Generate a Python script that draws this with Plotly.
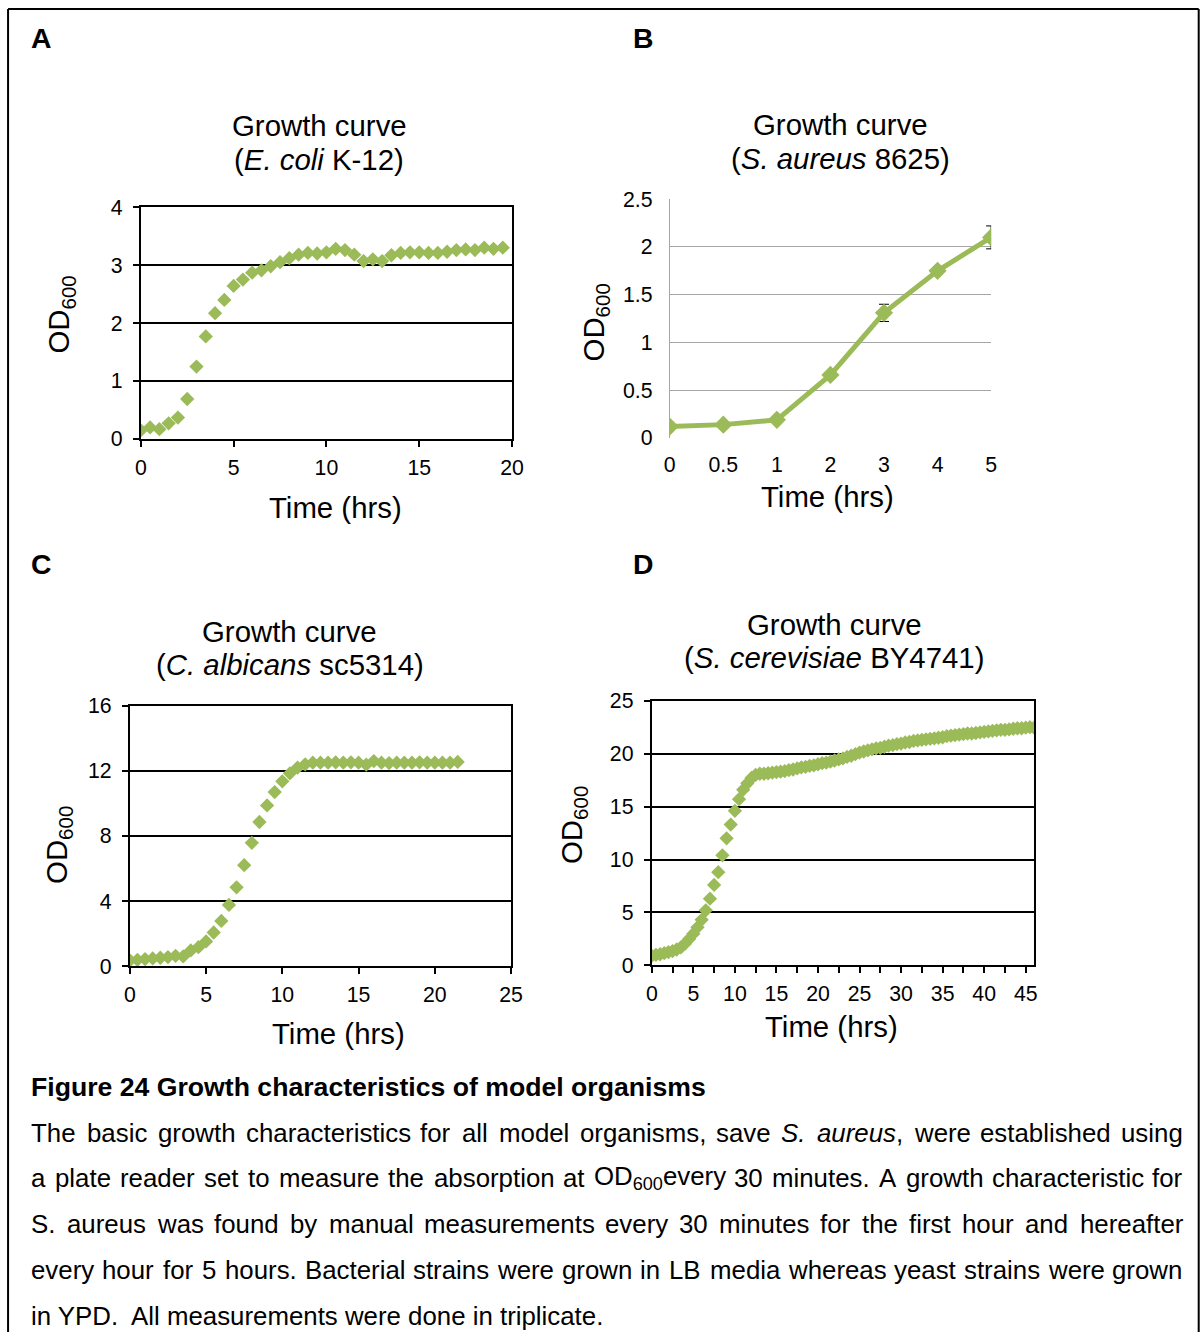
import re
import plotly.graph_objects as go

W, H = 1204, 1344
# the page is photographed with a small offset and scale; place items so they land where the reference has them
S, OFFX, OFFY = 0.987, 5, 8
GREEN = "#9BBB59"
FONT = "Arial, Liberation Sans, sans-serif"

# ---------------- data ----------------
# A: E. coli K-12
a_time = [0, 0.5, 1, 1.5, 2, 2.5, 3, 3.5, 4, 4.5, 5, 5.5, 6, 6.5, 7, 7.5, 8, 8.5, 9, 9.5,
          10, 10.5, 11, 11.5, 12, 12.5, 13, 13.5, 14, 14.5, 15, 15.5, 16, 16.5, 17, 17.5, 18, 18.5, 19, 19.5]
a_od = [0.15, 0.2, 0.17, 0.27, 0.37, 0.69, 1.25, 1.77, 2.17, 2.4, 2.64, 2.75, 2.87, 2.91, 2.98, 3.05, 3.12, 3.18, 3.21, 3.2,
        3.22, 3.28, 3.26, 3.18, 3.07, 3.1, 3.07, 3.17, 3.21, 3.22, 3.22, 3.21, 3.21, 3.23, 3.26, 3.27, 3.26, 3.3, 3.28, 3.3]

# B: S. aureus 8625
b_time = ["0", "0.5", "1", "2", "3", "4", "5"]
b_od = [0.12, 0.14, 0.19, 0.66, 1.31, 1.75, 2.1]
b_err = [0.01, 0.01, 0.01, 0.02, 0.09, 0.03, 0.12]

# C: C. albicans sc5314
c_time = [0, 0.5, 1, 1.5, 2, 2.5, 3, 3.5, 4, 4.5, 5, 5.5, 6, 6.5, 7, 7.5, 8, 8.5, 9, 9.5,
          10, 10.5, 11, 11.5, 12, 12.5, 13, 13.5, 14, 14.5, 15, 15.5, 16, 16.5, 17, 17.5, 18, 18.5, 19, 19.5,
          20, 20.5, 21, 21.5]
c_od = [0.37, 0.4, 0.45, 0.49, 0.53, 0.57, 0.65, 0.61, 0.98, 1.18, 1.53, 2.08, 2.79, 3.77, 4.85, 6.21, 7.58, 8.86, 9.88, 10.7,
        11.36, 11.85, 12.2, 12.4, 12.5, 12.5, 12.5, 12.52, 12.5, 12.52, 12.5, 12.38, 12.6, 12.5, 12.48, 12.5, 12.5, 12.5, 12.52, 12.5,
        12.5, 12.5, 12.5, 12.55]

# D: S. cerevisiae BY4741
d_time = [0, 0.5, 1, 1.5, 2, 2.5, 3, 3.5, 4, 4.5, 5, 5.5, 6, 6.5, 7, 7.5, 8, 8.5, 9, 9.5,
          10, 10.5, 11, 11.5, 12, 12.5, 13, 13.5, 14, 14.5, 15, 15.5, 16, 16.5, 17, 17.5, 18, 18.5, 19, 19.5,
          20, 20.5, 21, 21.5, 22, 22.5, 23, 23.5, 24, 24.5, 25, 25.5, 26, 26.5, 27, 27.5, 28, 28.5, 29, 29.5,
          30, 30.5, 31, 31.5, 32, 32.5, 33, 33.5, 34, 34.5, 35, 35.5, 36, 36.5, 37, 37.5, 38, 38.5, 39, 39.5,
          40, 40.5, 41, 41.5, 42, 42.5, 43, 43.5, 44, 44.5, 45, 45.5, 46]
d_od = [0.9, 1.0, 1.05, 1.15, 1.25, 1.35, 1.5, 1.7, 2.05, 2.5, 3.0, 3.6, 4.3, 5.2, 6.3, 7.6, 8.8, 10.4, 12.0, 13.3,
        14.6, 15.7, 16.6, 17.2, 17.7, 18.0, 18.1, 18.1, 18.15, 18.2, 18.25, 18.3, 18.35, 18.45, 18.5, 18.6, 18.7, 18.75, 18.85, 18.9,
        19.0, 19.1, 19.15, 19.25, 19.35, 19.45, 19.55, 19.7, 19.8, 19.95, 20.1, 20.2, 20.3, 20.4, 20.5, 20.55, 20.65, 20.75, 20.8, 20.9,
        20.95, 21.05, 21.1, 21.2, 21.25, 21.3, 21.35, 21.4, 21.45, 21.5, 21.55, 21.65, 21.7, 21.75, 21.8, 21.85, 21.9, 21.9, 21.95, 22.0,
        22.05, 22.1, 22.15, 22.2, 22.25, 22.25, 22.3, 22.35, 22.4, 22.4, 22.45, 22.5, 22.45]

panel_letters = ["A", "B", "C", "D"]
panel_titles = ["(<i>E. coli</i> K-12)", "(<i>S. aureus</i> 8625)",
                "(<i>C. albicans</i> sc5314)", "(<i>S. cerevisiae</i> BY4741)"]
caption_title = "Figure 24 Growth characteristics of model organisms"
caption_lines = [
    "The basic growth characteristics for all model organisms, save <i>S. aureus</i>, were established using",
    "a plate reader set to measure the absorption at OD<sub>600</sub>every 30 minutes. A growth characteristic for",
    "S. aureus was found by manual measurements every 30 minutes for the first hour and hereafter",
    "every hour for 5 hours. Bacterial strains were grown in LB media whereas yeast strains were grown",
    "in YPD.  All measurements were done in triplicate.",
]

# Arial / Liberation Sans advance widths (1/1000 em), used to justify the caption
_AW_CHARS = " ,-.0123456789()ABCDEFGHIJKLMNOPQRSTUVWXYZabcdefghijklmnopqrstuvwxyz"
_AW_VALS = [278, 278, 333, 278] + [556] * 10 + [333, 333] + \
    [667, 667, 722, 722, 667, 611, 778, 722, 278, 500, 667, 556, 833, 722, 778, 667, 778, 722, 667,
     611, 722, 667, 944, 667, 667, 611] + \
    [556, 556, 500, 556, 556, 278, 556, 556, 222, 222, 500, 222, 833, 556, 556, 556, 556, 333, 500,
     278, 556, 500, 722, 500, 500, 500]
AW = dict(zip(_AW_CHARS, _AW_VALS))


def text_width(markup, size):
    total = 0.0
    for m in re.finditer(r"<sub>(.*?)</sub>|([^<]+)|<[^>]+>", markup):
        if m.group(1) is not None:
            total += 0.7 * sum(AW.get(c, 556) for c in m.group(1))
        elif m.group(2) is not None:
            total += sum(AW.get(c, 556) for c in m.group(2))
    return total * size / 1000.0


def px(x):
    return (x / S - OFFX) / W


def py(y):
    return 1 - (y / S - OFFY) / H


def fs(size):
    return size / S


fig = go.Figure()

fig.add_trace(go.Scatter(x=a_time, y=a_od, mode="markers", xaxis="x", yaxis="y",
                         marker=dict(symbol="diamond", size=11, color=GREEN), showlegend=False))
fig.add_trace(go.Scatter(x=b_time, y=b_od, mode="lines+markers", xaxis="x2", yaxis="y2",
                         line=dict(color=GREEN, width=5),
                         marker=dict(symbol="diamond", size=14, color=GREEN),
                         error_y=dict(type="data", array=b_err, color="black", thickness=1, width=5),
                         showlegend=False))
fig.add_trace(go.Scatter(x=c_time, y=c_od, mode="markers", xaxis="x3", yaxis="y3",
                         marker=dict(symbol="diamond", size=11, color=GREEN), showlegend=False))
fig.add_trace(go.Scatter(x=d_time, y=d_od, mode="markers", xaxis="x4", yaxis="y4",
                         marker=dict(symbol="diamond", size=11, color=GREEN), showlegend=False))

tickfont = dict(family=FONT, size=fs(21), color="black")

box_x = dict(showline=True, linecolor="black", linewidth=2, mirror=True, ticks="outside",
             ticklen=6, tickwidth=2, tickcolor="black", showgrid=False, zeroline=False,
             tickfont=tickfont, fixedrange=True, ticklabelstandoff=2)
box_y = dict(showline=True, linecolor="black", linewidth=2, mirror=True, ticks="outside",
             ticklen=6, tickwidth=2, tickcolor="black", showgrid=True, gridcolor="black",
             gridwidth=2, zeroline=False, tickfont=tickfont, fixedrange=True,
             ticklabelstandoff=6)

fig.update_layout(
    width=W, height=H, margin=dict(l=0, r=0, t=0, b=0),
    paper_bgcolor="white", plot_bgcolor="white", showlegend=False,
    xaxis=dict(box_x, domain=[px(140), px(512)], range=[0, 20], dtick=5, anchor="y"),
    yaxis=dict(box_y, domain=[py(437), py(204)], range=[0, 4], dtick=1, anchor="x"),
    xaxis2=dict(domain=[px(670), px(992)], type="category", range=[0, 6], anchor="y2",
                showline=False, showgrid=False, zeroline=False, ticks="", tickfont=tickfont,
                fixedrange=True, ticklabelstandoff=12),
    yaxis2=dict(domain=[py(436), py(196)], range=[0, 2.5], dtick=0.5, anchor="x2",
                showline=True, linecolor="#A6A6A6", linewidth=1, showgrid=True,
                gridcolor="#A6A6A6", gridwidth=1, zeroline=False, ticks="",
                tickfont=tickfont, fixedrange=True, ticklabelstandoff=12),
    xaxis3=dict(box_x, domain=[px(129), px(511)], range=[0, 25], dtick=5, anchor="y3"),
    yaxis3=dict(box_y, domain=[py(967), py(705)], range=[0, 16], dtick=4, anchor="x3"),
    xaxis4=dict(box_x, domain=[px(652), px(1035)], range=[0, 46], dtick=5, anchor="y4",
                minor=dict(dtick=2.5, tick0=0, ticks="outside", ticklen=6, tickwidth=2,
                           tickcolor="black")),
    yaxis4=dict(box_y, domain=[py(966), py(700)], range=[0, 25], dtick=5, anchor="x4"),
)

ann = []


def text(x, y, s, size, bold=False, angle=0, xanchor="center"):
    if bold:
        s = "<b>" + s + "</b>"
    ann.append(dict(x=px(x), y=py(y), xref="paper", yref="paper", text=s, showarrow=False,
                    xanchor=xanchor, yanchor="middle", textangle=angle, borderpad=0,
                    font=dict(family=FONT, size=fs(size), color="black")))


# panel letters
for letter, (lx, ly) in zip(panel_letters, [(40, 34), (643, 34), (40, 563), (643, 563)]):
    text(lx, ly, letter, 28, bold=True)

# panel titles
title_pos = [(319, 122), (841, 121), (289, 630), (835, 623)]
for t, (tx, ty) in zip(panel_titles, title_pos):
    text(tx, ty, "Growth curve", 29)
    text(tx, ty + 34, t, 29)

# axis titles
for (tx, ty) in [(335, 506), (828, 495), (338, 1034), (832, 1027)]:
    text(tx, ty, "Time (hrs)", 29)
for (tx, ty) in [(60, 312), (596, 320), (58, 845), (573, 825)]:
    text(tx, ty, "OD<sub>600</sub>", 29, angle=-90)

# caption (justified body text, as in the reference)
CAP_SIZE = 25.5
LEFT, RIGHT = 29, 1182
text(LEFT, 1088, caption_title, 26.3, bold=True, xanchor="left")
for i, line in enumerate(caption_lines):
    y = 1134 + 46 * i
    if i == len(caption_lines) - 1:
        text(LEFT, y, line, CAP_SIZE, xanchor="left")
        continue
    words = []
    for w in line.split(" "):
        if "<i>" in w and "</i>" not in w:
            w = w + "</i>"
        elif "</i>" in w and "<i>" not in w:
            w = "<i>" + w
        words.append(w)
    widths = [text_width(w, CAP_SIZE) for w in words]
    gap = (RIGHT - LEFT - sum(widths)) / (len(words) - 1)
    x = LEFT
    for w, wd in zip(words, widths):
        text(x, y, w, CAP_SIZE, xanchor="left")
        x += wd + gap

fig.update_layout(annotations=ann)

# outer border (top, left, right)
fig.update_layout(shapes=[
    dict(type="line", xref="paper", yref="paper", x0=px(7), x1=px(1200), y0=py(5), y1=py(5),
         line=dict(color="black", width=2)),
    dict(type="line", xref="paper", yref="paper", x0=px(7), x1=px(7), y0=py(5), y1=0,
         line=dict(color="black", width=2)),
    dict(type="line", xref="paper", yref="paper", x0=px(1200), x1=px(1200), y0=py(5), y1=0,
         line=dict(color="black", width=2)),
])

fig.write_html("out.html")
